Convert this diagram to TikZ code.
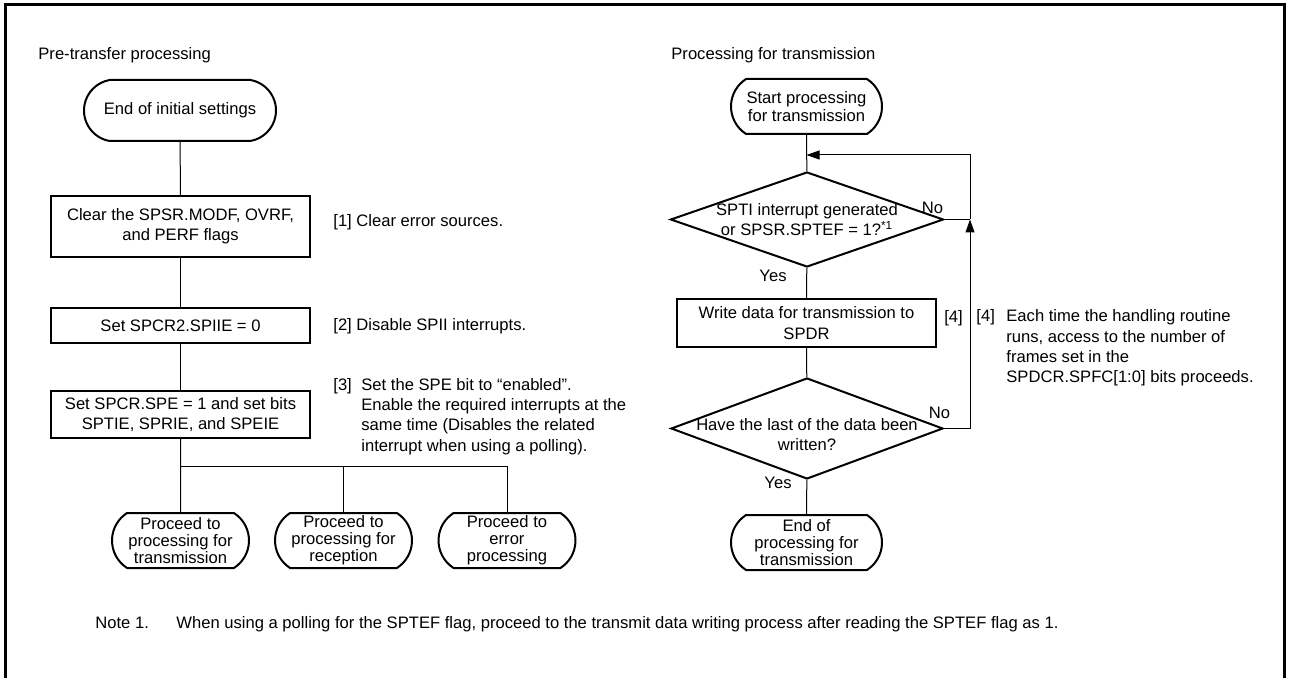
\documentclass[tikz,border=0pt]{standalone}
\usepackage{fontspec}
\setmainfont{Liberation Sans}
\usetikzlibrary{arrows.meta,shapes.geometric,shapes.misc}
\tikzset{
  schrift/.style={font=\fontsize{8.3}{10.2}\selectfont},
  kasten/.style={draw,line width=1pt,rectangle,align=center,inner sep=0pt,minimum width=129.5pt,schrift},
  termin/.style={draw,line width=1pt,rounded rectangle,rounded rectangle arc length=115,align=center,inner sep=0pt,minimum height=27.5pt,font=\fontsize{8.3}{8.6}\selectfont},
  raute/.style={draw,line width=1pt,diamond,inner sep=0pt},
  linie/.style={line width=0.5pt},
  pfeil/.style={line width=0.5pt,-{Triangle[length=6.5pt,width=4.5pt]}},
  notiz/.style={align=left,inner sep=0pt,schrift},
  rahmen/.style={line width=1.5pt},
}

\begin{document}
\begin{tikzpicture}[x=0.5pt,y=-0.5pt]
  \useasboundingbox (0,0) rectangle (1290,678);
  \draw[rahmen] (5.5,690) -- (5.5,4.5) -- (1284.5,4.5) -- (1284.5,690);

  % linker Ablauf
  \node[notiz,anchor=west] (tl) at (38,55) {Pre-transfer processing};
  \node[termin,rounded rectangle arc length=160,minimum width=96pt,minimum height=30.5pt,schrift] (init) at (180,110.5) {End of initial settings};
  \node[kasten,minimum height=30.5pt] (b1) at (180.5,226.5) {Clear the SPSR.MODF, OVRF,\\and PERF flags};
  \node[kasten,minimum height=17.5pt] (b2) at (180.5,325.8) {Set SPCR2.SPIIE = 0};
  \node[kasten,minimum height=23.5pt] (b3) at (180.5,414.5) {Set SPCR.SPE = 1 and set bits\\SPTIE, SPRIE, and SPEIE};
  \node[termin,minimum width=68.5pt] (t1) at (180.5,540.5) {Proceed to\\processing for\\transmission};
  \node[termin,minimum width=68.5pt] (t2) at (343.5,540.5) {Proceed to\\processing for\\reception};
  \node[termin,minimum width=68.5pt] (t3) at (507,540.5) {Proceed to\\error\\processing};

  \node[notiz,anchor=west] (n1) at (333,222) {[1] Clear error sources.};
  \node[notiz,anchor=west] (n2) at (333,325.8) {[2] Disable SPII interrupts.};
  \node[notiz,anchor=west] (n3) at (333,416.5) {\makebox[14pt][l]{[3]}Set the SPE bit to ``enabled''.\\
    \hspace*{14pt}Enable the required interrupts at the\\
    \hspace*{14pt}same time (Disables the related\\
    \hspace*{14pt}interrupt when using a polling).};

  \draw[linie] (init) -- (b1);
  \draw[linie] (b1) -- (b2);
  \draw[linie] (b2) -- (b3);
  \coordinate (ast) at (180.5,466);
  \draw[linie] (b3) -- (ast) -- (t1);
  \draw[linie] (ast) -| (t2.north);
  \draw[linie] (ast) -| (t3.north);

  % rechter Ablauf
  \node[notiz,anchor=west] (tr) at (671,55) {Processing for transmission};
  \node[termin,minimum width=75.5pt] (start) at (806.5,106.5) {Start processing\\for transmission};
  \node[raute,minimum width=136.5pt,minimum height=47.5pt,
    label={[schrift,align=center,inner sep=0pt]center:{SPTI interrupt generated\\or SPSR.SPTEF = 1?\textsuperscript{*1}}}] (d1) at (807,219.5) {};
  \node[kasten,minimum height=24pt] (b4) at (806.5,323) {Write data for transmission to\\SPDR};
  \node[raute,minimum width=136pt,minimum height=50.5pt,
    label={[schrift,align=center,inner sep=0pt,yshift=-3pt]center:{Have the last of the data been\\written?}}] (d2) at (807,428.5) {};
  \node[termin,minimum width=75.5pt] (ende) at (806.5,542.5) {End of\\processing for\\transmission};

  \node[schrift] (ja1) at (773,276) {Yes};
  \node[schrift] (nein1) at (932.5,208) {No};
  \node[schrift] (ja2) at (778,483) {Yes};
  \node[schrift] (nein2) at (939.5,413) {No};
  \node[schrift] (m4) at (953.5,318) {[4]};
  \node[notiz,anchor=west] (n4) at (976,348) {\makebox[15pt][l]{[4]}Each time the handling routine\\
    \hspace*{15pt}runs, access to the number of\\
    \hspace*{15pt}frames set in the\\
    \hspace*{15pt}SPDCR.SPFC[1:0] bits proceeds.};

  \draw[linie] (start) -- (d1);
  \draw[linie] (d1) -- (b4);
  \draw[linie] (b4) -- (d2);
  \draw[linie] (d2) -- (ende);
  \coordinate (knoten) at (970,219.5);
  \coordinate (oben) at (970,155);
  \draw[linie] (d1.east) -- (knoten);
  \draw[pfeil] (d2.east) -| (knoten);
  \draw[pfeil] (knoten) -- (oben) -- (start |- oben);

  % Fussnote
  \node[notiz,anchor=west] (fn) at (95,624) {\makebox[40.5pt][l]{Note 1.}When using a polling for the SPTEF flag, proceed to the transmit data writing process after reading the SPTEF flag as 1.};
\end{tikzpicture}
\end{document}
